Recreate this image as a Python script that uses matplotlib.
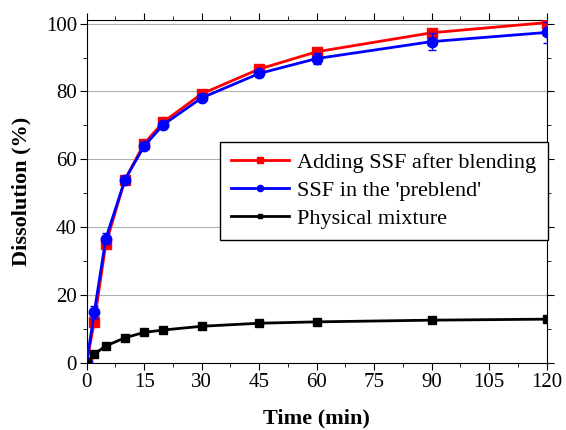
import numpy as np
import matplotlib.pyplot as plt
from matplotlib.ticker import MultipleLocator

time = [0, 2, 5, 10, 15, 20, 30, 45, 60, 90, 120]
adding = [0, 12.1, 35.0, 54.0, 64.6, 71.0, 79.3, 86.6, 91.7, 97.3, 100.3]
adding_err = [0, 0.8, 1.0, 0.6, 0.6, 0.5, 0.5, 0.6, 0.6, 0.6, 0.8]
preblend = [0, 14.9, 36.6, 54.0, 63.9, 70.2, 78.1, 85.3, 89.7, 94.7, 97.4]
preblend_err = [0, 2.0, 1.6, 0.8, 0.8, 0.7, 0.7, 1.0, 1.6, 2.6, 3.2]
physical = [0, 2.6, 5.0, 7.4, 9.0, 9.7, 10.8, 11.7, 12.1, 12.6, 12.9]

plt.rcParams['font.family'] = ['Liberation Serif', 'DejaVu Serif']
plt.rcParams['font.size'] = 15

fig = plt.figure(figsize=(5.66, 4.30), dpi=100)
ax = fig.add_axes([0.153, 0.156, 0.813, 0.797])

r = ax.errorbar(time, adding, yerr=adding_err, color='red', marker='s', markersize=6.5,
                linewidth=2, capsize=3, elinewidth=1, zorder=3)
b = ax.errorbar(time, preblend, yerr=preblend_err, color='blue', marker='o', markersize=7.5,
                linewidth=2, capsize=3, elinewidth=1, zorder=4)
k, = ax.plot(time, physical, color='black', marker='s', markersize=6, linewidth=2, zorder=5)

ax.set_xlim(0, 120)
ax.set_ylim(0, 101)
ax.xaxis.set_major_locator(MultipleLocator(15))
ax.xaxis.set_minor_locator(MultipleLocator(7.5))
ax.yaxis.set_major_locator(MultipleLocator(20))
ax.yaxis.set_minor_locator(MultipleLocator(10))
ax.tick_params(which='both', direction='out', top=True, right=True)
ax.tick_params(which='major', length=5, labelsize=15, pad=2)
ax.tick_params(which='minor', length=3)
ax.yaxis.grid(True, color='#b0b0b0', linewidth=0.8)
ax.set_axisbelow(True)

ax.set_xlabel('Time (min)', fontweight='bold', fontsize=16, labelpad=12)
ax.set_ylabel('Dissolution (%)', fontweight='bold', fontsize=16, labelpad=10)

leg = ax.legend([r[0], b[0], k],
                ['Adding SSF after blending', "SSF in the 'preblend'", 'Physical mixture'],
                loc='upper right', bbox_to_anchor=(1.002, 0.646),
                fontsize=16, fancybox=False, edgecolor='black', framealpha=1,
                handlelength=2.6, markerscale=0.6, borderpad=0.5, labelspacing=0.32,
                handletextpad=0.4, borderaxespad=0)
leg.get_frame().set_linewidth(1)

plt.savefig('out.png', dpi=100)
